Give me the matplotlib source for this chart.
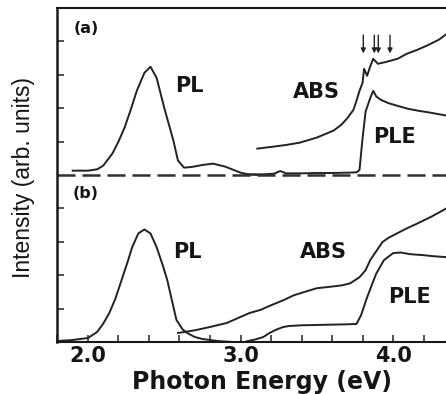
import matplotlib.pyplot as plt

plt.rcParams['lines.scale_dashes'] = False

# ----- spectra, photon energy (eV) vs intensity (arb. units) ----- #
# panel (a) sits on top of a baseline of 5, panel (b) on 0

pl_a_e = [1.90, 2.00, 2.06, 2.10, 2.16, 2.20, 2.24, 2.28, 2.32, 2.37, 2.41, 2.45,
          2.50, 2.56, 2.59, 2.63, 2.68, 2.75, 2.82, 2.90, 3.00, 3.06, 3.15]
pl_a_i = [5.13, 5.13, 5.17, 5.28, 5.64, 6.00, 6.42, 6.95, 7.52, 8.06, 8.24, 7.91,
          7.01, 6.03, 5.43, 5.22, 5.24, 5.30, 5.34, 5.25, 5.07, 5.01, 5.00]

abs_a_e = [3.11, 3.20, 3.30, 3.39, 3.50, 3.61, 3.66, 3.70, 3.74, 3.76, 3.78, 3.80,
           3.81, 3.83, 3.85, 3.87, 3.90, 3.95, 4.03, 4.09, 4.16, 4.22, 4.30, 4.35]
abs_a_i = [5.79, 5.84, 5.90, 5.97, 6.12, 6.33, 6.50, 6.70, 6.95, 7.22, 7.52, 7.76,
           8.18, 7.97, 8.25, 8.48, 8.33, 8.38, 8.48, 8.63, 8.75, 8.87, 9.05, 9.22]

ple_a_e = [3.05, 3.15, 3.22, 3.26, 3.30, 3.40, 3.50, 3.60, 3.70, 3.76, 3.78, 3.80,
           3.82, 3.85, 3.87, 3.89, 3.92, 3.97, 4.03, 4.10, 4.17, 4.24, 4.30, 4.35]
ple_a_i = [5.02, 5.02, 5.04, 5.12, 5.05, 5.05, 5.06, 5.06, 5.07, 5.08, 5.15, 6.10,
           6.90, 7.30, 7.52, 7.35, 7.25, 7.15, 7.07, 6.98, 6.92, 6.87, 6.82, 6.78]

pl_b_e = [1.80, 1.90, 2.00, 2.06, 2.10, 2.14, 2.18, 2.22, 2.26, 2.29, 2.33, 2.37,
          2.41, 2.45, 2.49, 2.52, 2.55, 2.58, 2.62, 2.65, 2.70, 2.75, 2.85, 2.95]
pl_b_i = [0.03, 0.06, 0.12, 0.30, 0.55, 0.87, 1.30, 1.85, 2.40, 2.84, 3.25, 3.37,
          3.25, 2.84, 2.30, 1.85, 1.25, 0.66, 0.38, 0.27, 0.15, 0.09, 0.03, 0.00]

abs_b_e = [2.59, 2.70, 2.80, 2.91, 3.00, 3.06, 3.13, 3.20, 3.28, 3.35, 3.42, 3.50,
           3.60, 3.67, 3.72, 3.78, 3.82, 3.85, 3.93, 3.97, 4.00, 4.08, 4.16, 4.25, 4.35]
abs_b_i = [0.27, 0.35, 0.45, 0.57, 0.75, 0.87, 0.96, 1.10, 1.25, 1.40, 1.50, 1.61,
           1.66, 1.70, 1.76, 1.94, 2.15, 2.45, 2.99, 3.12, 3.19, 3.38, 3.55, 3.75, 4.00]

ple_b_e = [3.04, 3.10, 3.15, 3.19, 3.24, 3.28, 3.32, 3.40, 3.50, 3.60, 3.70, 3.76,
           3.79, 3.83, 3.86, 3.89, 3.94, 4.00, 4.05, 4.11, 4.20, 4.26, 4.35]
ple_b_i = [0.02, 0.08, 0.15, 0.27, 0.38, 0.45, 0.48, 0.50, 0.51, 0.52, 0.53, 0.54,
           0.80, 1.34, 1.70, 2.05, 2.45, 2.66, 2.68, 2.63, 2.60, 2.57, 2.54]

# exciton markers above the absorption edge
arrow_e = [3.805, 3.877, 3.903, 3.980]

x_ticks = [2.0, 3.0, 4.0]
x_tick_labels = ['2.0', '3.0', '4.0']

# ----- figure ----- #

fig = plt.figure(figsize=(4.46, 3.94), dpi=100)
ax = fig.add_axes([57 / 446, 52 / 394, 389 / 446, 334 / 394])
ax.set_xlim(1.797, 4.347)
ax.set_ylim(0, 10)

ink = '#222222'
for e, i in [(pl_a_e, pl_a_i), (abs_a_e, abs_a_i), (ple_a_e, ple_a_i),
             (pl_b_e, pl_b_i), (abs_b_e, abs_b_i), (ple_b_e, ple_b_i)]:
    ax.plot(e, i, color=ink, lw=1.4, solid_joinstyle='round')

ax.axhline(5, color='#303030', lw=1.8, ls=(0, (13, 5)))

for e in arrow_e:
    ax.annotate('', xy=(e, 8.64), xytext=(e, 9.19),
                arrowprops=dict(arrowstyle='-|>', color=ink, lw=1.0,
                                mutation_scale=7, shrinkA=0, shrinkB=0))

bold = dict(family='DejaVu Sans', weight='bold', color='#151515')
ax.text(1.987, 9.40, '(a)', ha='center', va='center', fontsize=11.5, **bold)
ax.text(1.987, 4.46, '(b)', ha='center', va='center', fontsize=11.5, **bold)
ax.text(2.57, 7.66, 'PL', ha='left', va='center', fontsize=15, **bold)
ax.text(3.344, 7.49, 'ABS', ha='left', va='center', fontsize=15, **bold)
ax.text(3.87, 6.14, 'PLE', ha='left', va='center', fontsize=15, **bold)
ax.text(2.557, 2.69, 'PL', ha='left', va='center', fontsize=15, **bold)
ax.text(3.39, 2.69, 'ABS', ha='left', va='center', fontsize=15, **bold)
ax.text(3.967, 1.35, 'PLE', ha='left', va='center', fontsize=15, **bold)

# axes frame: left, bottom and top only
ax.spines['right'].set_visible(False)
ax.spines['left'].set_linewidth(1.8)
ax.spines['bottom'].set_linewidth(1.5)
ax.spines['top'].set_linewidth(1.5)
for s in ax.spines.values():
    s.set_color('#1a1a1a')

ax.set_xticks([2.0 + 0.2 * k for k in range(-1, 12)], minor=True)
ax.set_xticks(x_ticks)
ax.set_xticklabels(x_tick_labels, fontsize=15, family='DejaVu Sans',
                   weight='bold', color='#151515')
ax.set_yticks([1, 2, 3, 4, 6, 7, 8, 9])
ax.set_yticklabels([])
ax.tick_params(axis='both', which='both', direction='in', length=5,
               width=1.2, color='#333333', top=False, right=False)
ax.tick_params(axis='x', which='major', pad=3)

fig.text(262 / 446, 1 - 382 / 394, 'Photon Energy (eV)', ha='center',
         va='center', fontsize=17, **bold)
fig.text(24 / 446, 1 - 178 / 394, 'Intensity (arb. units)', ha='center',
         va='center', rotation=90, fontsize=16.5, family='Liberation Sans',
         color='#151515')

fig.savefig('out.png', dpi=100, facecolor='white')
